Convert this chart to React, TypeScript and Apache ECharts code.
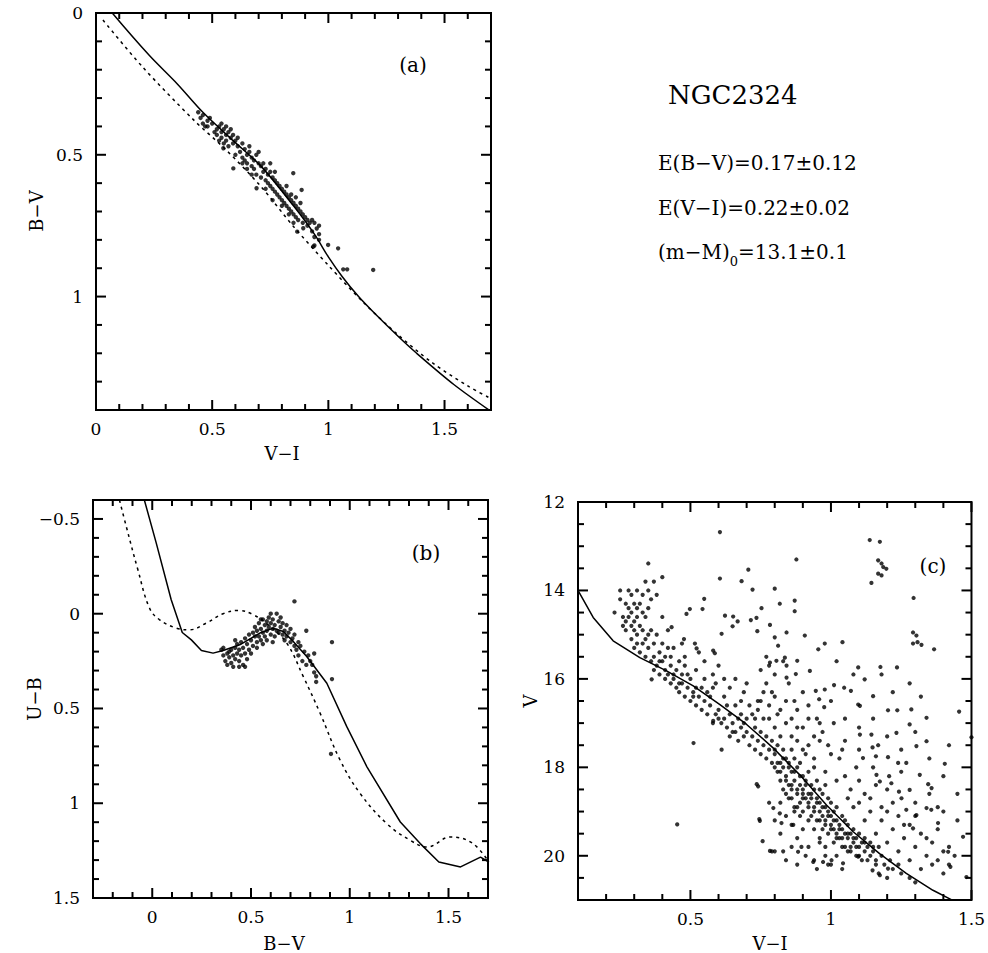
import { useEffect, useRef } from 'react';
import * as echarts from 'echarts';

// ---------- Panel (a): B-V vs V-I ----------
const aSolid: [number, number][] = [
  [0.065, -0.01], [0.07, 0.0], [0.23, 0.15], [0.35, 0.25], [0.46, 0.35], [0.59, 0.45], [0.71, 0.54],
  [0.85, 0.68], [0.94, 0.78], [1.0, 0.86], [1.06, 0.93], [1.13, 1.0], [1.2, 1.06], [1.3, 1.14],
  [1.38, 1.2], [1.54, 1.31], [1.7, 1.405],
];
const aDotted: [number, number][] = [
  [0.03, 0.025], [0.2, 0.19], [0.42, 0.377], [0.56, 0.483], [0.71, 0.612], [0.85, 0.753],
  [1.0, 0.89], [1.15, 1.02], [1.3, 1.135], [1.45, 1.235], [1.6, 1.315], [1.7, 1.36],
];
const aStars: [number, number][] = [
  [0.44, 0.35], [0.45, 0.37], [0.46, 0.36], [0.48, 0.38], [0.46, 0.39], [0.49, 0.37], [0.50, 0.39], [0.48, 0.40],
  [0.52, 0.41], [0.53, 0.40], [0.54, 0.42], [0.52, 0.43], [0.55, 0.41], [0.56, 0.43], [0.54, 0.44], [0.57, 0.42],
  [0.56, 0.45], [0.58, 0.44], [0.55, 0.46], [0.59, 0.43], [0.57, 0.47], [0.60, 0.45], [0.58, 0.41], [0.53, 0.45],
  [0.56, 0.40], [0.59, 0.46], [0.61, 0.44], [0.47, 0.40], [0.51, 0.42], [0.54, 0.39],
  [0.61, 0.47], [0.63, 0.46], [0.62, 0.49], [0.64, 0.48], [0.65, 0.50], [0.63, 0.51], [0.66, 0.49], [0.67, 0.51],
  [0.65, 0.53], [0.68, 0.52], [0.66, 0.47], [0.64, 0.52], [0.69, 0.50], [0.67, 0.54], [0.70, 0.53], [0.68, 0.55],
  [0.71, 0.54], [0.69, 0.57], [0.72, 0.56], [0.73, 0.55], [0.71, 0.58], [0.74, 0.57], [0.75, 0.56], [0.73, 0.59],
  [0.76, 0.58], [0.74, 0.60], [0.77, 0.59], [0.75, 0.61], [0.78, 0.60], [0.76, 0.62], [0.72, 0.53], [0.70, 0.49],
  [0.75, 0.53], [0.77, 0.56], [0.65, 0.55], [0.63, 0.53], [0.60, 0.50], [0.67, 0.57], [0.73, 0.62],
  [0.79, 0.61], [0.77, 0.63], [0.80, 0.62], [0.78, 0.64], [0.81, 0.63], [0.79, 0.65], [0.82, 0.64], [0.80, 0.66],
  [0.83, 0.65], [0.81, 0.67], [0.84, 0.66], [0.82, 0.68], [0.85, 0.67], [0.83, 0.69], [0.86, 0.68], [0.84, 0.70],
  [0.87, 0.69], [0.85, 0.71], [0.88, 0.70], [0.86, 0.72], [0.89, 0.71], [0.87, 0.73], [0.90, 0.72], [0.91, 0.73],
  [0.89, 0.74], [0.92, 0.74], [0.93, 0.73], [0.94, 0.74], [0.91, 0.75], [0.95, 0.76], [0.96, 0.75], [0.93, 0.77],
  [0.96, 0.78], [0.94, 0.79], [0.96, 0.80], [0.94, 0.82], [0.82, 0.61], [0.84, 0.64], [0.86, 0.65], [0.88, 0.67],
  [0.80, 0.68], [0.83, 0.71], [0.76, 0.66], [0.85, 0.74],
  [0.849, 0.565], [0.885, 0.624], [0.866, 0.771], [0.892, 0.759], [0.935, 0.824], [0.999, 0.818], [1.042, 0.83],
  [1.064, 0.904], [1.081, 0.904], [1.193, 0.906], [0.691, 0.618], [0.591, 0.548], [0.548, 0.477],
];

// ---------- Panel (b): U-B vs B-V ----------
const bSolid: [number, number][] = [
  [-0.04, -0.6], [0.02, -0.374], [0.096, -0.074], [0.152, 0.099], [0.198, 0.138], [0.249, 0.194],
  [0.308, 0.208], [0.359, 0.194], [0.443, 0.164], [0.545, 0.102], [0.613, 0.076], [0.663, 0.094],
  [0.714, 0.146], [0.782, 0.226], [0.884, 0.367], [0.985, 0.596], [1.087, 0.808], [1.256, 1.099],
  [1.357, 1.213], [1.451, 1.31], [1.561, 1.336], [1.662, 1.284], [1.704, 1.31],
];
const bDotted: [number, number][] = [
  [-0.166, -0.6], [-0.132, -0.462], [-0.073, -0.233], [-0.014, -0.03], [0.037, 0.032], [0.122, 0.076],
  [0.189, 0.085], [0.274, 0.049], [0.359, 0.0], [0.435, -0.017], [0.511, 0.005], [0.596, 0.067],
  [0.681, 0.155], [0.765, 0.332], [0.85, 0.525], [0.951, 0.772], [1.053, 0.949], [1.188, 1.108],
  [1.307, 1.196], [1.392, 1.231], [1.51, 1.178], [1.62, 1.21], [1.704, 1.31],
];
const bStars: [number, number][] = [
  [0.35, 0.19], [0.36, 0.22], [0.37, 0.25], [0.38, 0.21], [0.38, 0.27], [0.39, 0.23], [0.40, 0.19], [0.40, 0.26],
  [0.41, 0.22], [0.41, 0.28], [0.42, 0.18], [0.42, 0.24], [0.43, 0.21], [0.43, 0.16], [0.44, 0.25], [0.44, 0.19],
  [0.45, 0.22], [0.45, 0.15], [0.46, 0.27], [0.46, 0.18], [0.47, 0.21], [0.47, 0.13], [0.48, 0.24], [0.48, 0.16],
  [0.49, 0.19], [0.49, 0.11], [0.50, 0.14], [0.50, 0.21], [0.47, 0.28], [0.44, 0.28], [0.39, 0.20], [0.42, 0.14],
  [0.36, 0.18],
  [0.51, 0.10], [0.51, 0.17], [0.52, 0.12], [0.52, 0.07], [0.53, 0.15], [0.53, 0.09], [0.54, 0.05], [0.54, 0.12],
  [0.55, 0.08], [0.55, 0.14], [0.56, 0.03], [0.56, 0.10], [0.57, 0.06], [0.57, 0.12], [0.58, 0.04], [0.58, 0.09],
  [0.59, 0.02], [0.59, 0.07], [0.60, 0.05], [0.60, 0.11], [0.60, 0.00], [0.61, 0.08], [0.61, 0.03], [0.62, 0.06],
  [0.62, 0.12], [0.63, 0.00], [0.63, 0.09], [0.64, 0.04], [0.64, 0.10], [0.65, 0.07], [0.65, 0.02], [0.66, 0.11],
  [0.66, 0.05], [0.67, 0.09], [0.67, 0.14], [0.68, 0.06], [0.68, 0.12], [0.69, 0.10], [0.70, 0.15], [0.70, 0.08],
  [0.71, 0.13], [0.72, 0.17], [0.72, 0.11], [0.73, 0.19], [0.74, 0.15], [0.53, 0.18], [0.56, 0.16], [0.58, 0.14],
  [0.61, 0.15], [0.55, 0.03],
  [0.74, 0.22], [0.75, 0.17], [0.76, 0.25], [0.77, 0.20], [0.78, 0.27], [0.79, 0.22], [0.80, 0.25], [0.81, 0.27],
  [0.82, 0.21], [0.82, 0.31], [0.83, 0.33], [0.83, 0.36], [0.78, 0.09], [0.72, -0.065], [0.91, 0.15], [0.91, 0.345],
  [0.905, 0.74],
];

// ---------- Panel (c): V vs V-I ----------
const cLine: [number, number][] = [
  [0.1, 14.0], [0.154, 14.61], [0.225, 15.14], [0.32, 15.52], [0.415, 15.82], [0.51, 16.16], [0.605, 16.58],
  [0.7, 17.03], [0.794, 17.56], [0.889, 18.17], [0.984, 18.85], [1.078, 19.45], [1.173, 19.95], [1.268, 20.4],
  [1.363, 20.78], [1.44, 21.03],
];
const cMainSequence: [number, number][] = [
  [0.23, 14.5], [0.25, 14.0], [0.25, 14.2], [0.26, 14.6], [0.26, 14.8], [0.27, 14.3], [0.27, 14.7], [0.27, 14.9],
  [0.28, 14.0], [0.28, 14.4], [0.28, 14.6], [0.29, 14.1], [0.29, 14.5], [0.29, 14.8], [0.29, 15.1], [0.30, 14.3],
  [0.30, 14.7], [0.30, 14.9], [0.30, 15.3], [0.31, 14.0], [0.31, 14.4], [0.31, 14.6], [0.31, 15.0], [0.31, 15.2],
  [0.32, 14.3], [0.32, 14.8], [0.32, 15.4], [0.33, 14.1], [0.33, 14.5], [0.33, 14.9], [0.33, 15.2], [0.34, 13.8],
  [0.34, 14.6], [0.34, 15.1], [0.34, 15.5], [0.35, 14.0], [0.35, 14.4], [0.35, 15.0], [0.35, 15.3], [0.36, 15.6],
  [0.36, 14.2], [0.36, 14.9], [0.37, 13.8], [0.37, 15.2], [0.37, 15.5], [0.38, 14.1], [0.38, 15.0], [0.38, 15.7],
  [0.39, 15.4], [0.39, 15.9], [0.40, 13.7], [0.40, 14.6], [0.40, 15.2], [0.40, 15.6], [0.41, 15.8], [0.41, 15.5],
  [0.42, 14.9], [0.42, 15.9], [0.43, 15.7], [0.43, 16.1], [0.44, 15.3], [0.44, 16.0], [0.45, 16.2], [0.45, 15.8],
  [0.46, 15.6], [0.46, 16.3], [0.47, 16.1], [0.47, 15.9], [0.48, 16.4], [0.48, 15.7], [0.49, 16.2], [0.50, 16.5],
  [0.50, 16.0], [0.51, 16.3], [0.52, 16.6], [0.52, 16.2], [0.53, 16.4], [0.54, 16.7], [0.55, 16.5], [0.55, 15.6],
  [0.56, 16.8], [0.56, 16.3], [0.57, 16.6], [0.58, 17.0], [0.58, 16.2], [0.59, 16.8], [0.60, 16.7], [0.61, 17.0],
  [0.62, 16.9], [0.63, 17.1], [0.64, 16.8], [0.64, 17.3], [0.65, 17.0], [0.66, 17.2], [0.66, 16.6], [0.67, 17.4],
  [0.68, 17.1], [0.68, 16.5], [0.69, 17.3], [0.70, 17.2], [0.70, 16.9], [0.71, 17.5], [0.72, 17.3], [0.72, 16.8],
  [0.73, 17.6], [0.73, 17.1], [0.74, 17.4], [0.74, 16.7], [0.75, 17.7], [0.75, 17.2], [0.76, 17.5], [0.76, 16.9],
  [0.77, 17.8], [0.77, 17.3], [0.78, 17.6], [0.78, 16.6], [0.79, 17.9], [0.79, 17.4], [0.80, 18.0], [0.80, 17.7],
  [0.80, 17.1], [0.81, 18.1], [0.81, 17.5], [0.81, 16.8], [0.82, 17.9], [0.82, 18.3], [0.82, 17.3], [0.83, 18.0],
  [0.83, 17.6], [0.83, 18.5], [0.84, 18.2], [0.84, 17.8], [0.84, 17.0], [0.85, 18.4], [0.85, 17.9], [0.85, 18.7],
  [0.86, 18.1], [0.86, 17.6], [0.86, 18.5], [0.87, 18.3], [0.87, 17.8], [0.87, 18.9], [0.88, 18.6], [0.88, 18.0],
  [0.88, 17.4], [0.89, 18.4], [0.89, 18.8], [0.89, 17.9], [0.90, 18.5], [0.90, 18.2], [0.90, 19.0], [0.91, 18.7],
  [0.91, 18.3], [0.91, 17.7], [0.92, 18.6], [0.92, 18.9], [0.92, 18.1], [0.93, 18.4], [0.93, 19.1], [0.93, 18.7],
  [0.94, 18.5], [0.94, 18.9], [0.94, 18.0], [0.95, 18.7], [0.95, 19.2], [0.95, 18.3], [0.96, 18.8], [0.96, 19.0],
  [0.96, 18.5], [0.97, 19.1], [0.97, 18.6], [0.97, 19.4], [0.98, 18.9], [0.98, 19.2], [0.98, 18.4], [0.99, 19.0],
  [0.99, 19.5], [0.99, 18.7], [1.00, 19.1], [1.00, 19.3], [1.00, 18.8], [1.01, 19.4], [1.01, 19.0], [1.01, 19.7],
  [1.02, 19.2], [1.02, 19.5], [1.02, 18.9], [1.03, 19.3], [1.03, 19.6], [1.04, 19.4], [1.04, 19.8], [1.04, 19.1],
  [1.05, 19.5], [1.05, 19.2], [1.06, 19.6], [1.06, 19.9], [1.06, 19.3], [1.07, 19.5], [1.07, 19.8], [1.08, 19.7],
  [1.08, 19.4], [1.09, 19.6], [1.09, 20.0], [1.10, 19.8], [1.10, 19.5], [1.11, 19.7], [1.11, 20.1], [1.12, 19.9],
  [1.12, 19.6], [1.13, 19.8], [1.14, 20.0], [1.14, 19.7], [1.15, 19.9], [1.16, 20.1], [1.17, 19.8], [1.17, 20.4],
  [1.18, 20.0], [1.19, 20.2], [1.20, 20.5], [1.21, 20.1], [1.22, 20.3], [1.24, 20.2], [1.25, 20.4], [1.28, 20.5],
  [1.30, 20.6],
  [0.37, 15.8], [0.39, 15.6], [0.41, 16.0], [0.43, 15.5], [0.44, 15.9], [0.46, 16.1], [0.48, 15.5], [0.49, 15.9],
  [0.51, 16.4], [0.52, 15.8], [0.54, 16.2], [0.55, 16.0], [0.57, 16.4], [0.59, 16.1], [0.60, 16.9], [0.62, 16.4],
  [0.63, 16.6], [0.65, 17.2], [0.67, 16.9], [0.69, 17.0], [0.58, 15.9], [0.53, 15.4], [0.47, 15.2], [0.42, 15.3],
  [0.80, 17.6], [0.81, 17.9], [0.82, 18.1], [0.83, 17.8], [0.84, 18.3], [0.85, 18.0], [0.86, 18.4], [0.87, 18.1],
  [0.88, 18.5], [0.89, 18.2], [0.90, 18.7], [0.91, 18.4], [0.92, 18.8], [0.93, 18.6], [0.94, 19.0], [0.95, 18.8],
  [0.96, 19.2], [0.97, 18.9], [0.98, 19.3], [0.99, 19.1], [1.00, 19.4], [1.01, 19.2], [1.02, 19.6], [1.03, 19.4],
  [1.04, 19.6], [1.05, 19.8], [1.06, 19.5], [1.07, 19.9], [1.08, 19.6], [1.09, 19.8], [1.10, 20.0], [1.12, 19.7],
  [1.13, 20.1], [1.15, 19.8], [1.16, 20.2], [0.86, 18.7], [0.88, 18.9], [0.90, 18.6], [0.92, 19.2], [0.94, 19.4],
  [0.96, 19.6], [0.98, 19.8], [0.84, 18.6], [0.82, 18.8], [0.87, 19.0], [0.89, 19.1],
];
const cField: [number, number][] = [
  [0.78, 15.7], [0.80, 15.9], [0.83, 15.6], [0.85, 16.1], [0.87, 16.5], [0.90, 16.3], [0.92, 16.6], [0.95, 16.9],
  [0.97, 17.2], [0.99, 17.5], [1.01, 17.0], [1.03, 17.8], [1.05, 18.2], [1.07, 18.5], [1.09, 18.0], [1.10, 18.8],
  [1.12, 18.6], [1.14, 19.0], [1.16, 18.4], [1.18, 19.2], [1.20, 19.0], [1.22, 19.4], [1.24, 19.1], [1.26, 19.6],
  [1.28, 19.3], [1.30, 19.8], [1.32, 19.5], [1.34, 20.0], [1.36, 19.7], [1.38, 20.1], [1.40, 19.9], [1.42, 20.2],
  [1.44, 20.0], [0.92, 17.5], [0.94, 17.8], [0.96, 17.4], [0.98, 18.1], [1.00, 17.7], [1.02, 18.3], [1.04, 17.6],
  [1.06, 18.7], [1.08, 18.9], [1.10, 18.3], [1.12, 19.2], [1.14, 18.7], [1.16, 19.5], [1.18, 18.9], [1.20, 19.7],
  [1.22, 18.8], [1.24, 19.9], [1.26, 19.3], [1.28, 20.1], [1.30, 19.1], [1.32, 20.3], [1.34, 19.6], [1.36, 20.2],
  [1.38, 19.4], [1.40, 20.4], [1.42, 19.8], [0.86, 19.3], [0.88, 19.6], [0.90, 19.4], [0.92, 19.8], [0.94, 20.1],
  [0.96, 19.7], [0.98, 20.0], [1.00, 20.2], [1.02, 20.0], [1.04, 20.3], [0.84, 19.1], [0.82, 19.5], [0.80, 19.2],
  [0.78, 18.8], [0.79, 19.9], [0.86, 19.8], [0.83, 19.9], [0.74, 16.5], [0.76, 16.3], [0.78, 16.9], [0.80, 16.4],
  [0.82, 16.7], [0.84, 16.5], [0.86, 16.9], [0.88, 16.7], [0.90, 17.1], [0.86, 17.3], [0.92, 16.9], [0.94, 17.3],
  [0.96, 17.0], [0.90, 17.6], [0.88, 17.1],
  [0.60, 15.7], [0.62, 16.0], [0.64, 16.2], [0.66, 16.0], [0.69, 16.3], [0.71, 16.6], [0.73, 16.9], [0.75, 16.5],
  [0.77, 16.1], [0.79, 16.3], [0.75, 15.8], [0.77, 15.5], [0.70, 16.1], [0.68, 16.8],
  [1.00, 16.5], [1.05, 16.9], [1.10, 17.1], [1.15, 16.9], [1.20, 17.3], [1.25, 17.6], [1.30, 17.2], [1.35, 17.8],
  [1.40, 18.2], [1.45, 18.6], [1.05, 17.4], [1.10, 17.6], [1.15, 18.0], [1.20, 18.5], [1.25, 18.1], [1.30, 18.8],
  [1.35, 18.6], [1.40, 19.0], [1.45, 19.2], [1.38, 18.9], [1.42, 17.5], [1.32, 16.4], [1.28, 16.1], [1.22, 16.3],
  [1.18, 15.9], [1.08, 15.9], [1.02, 15.6],
  [0.80, 19.9], [0.84, 20.1], [0.88, 20.2], [0.91, 20.0], [0.95, 20.3], [0.99, 20.2],
  [0.605, 12.68], [0.35, 13.39], [0.877, 13.3], [0.706, 13.53], [0.605, 13.73], [0.682, 13.79], [1.138, 12.86],
  [1.174, 12.9], [1.168, 13.32], [1.18, 13.39], [1.186, 13.47], [1.197, 13.51], [1.168, 13.62], [1.18, 13.66],
  [1.144, 13.83], [1.294, 14.17], [0.721, 13.98], [0.8, 13.96], [0.549, 14.19], [0.543, 14.42], [0.498, 14.42],
  [0.486, 14.53], [0.753, 14.4], [0.818, 14.3], [0.871, 14.23], [0.871, 14.47], [0.623, 14.57], [0.652, 14.59],
  [0.668, 14.7], [0.65, 14.81], [0.715, 14.67], [0.735, 14.62], [0.783, 14.78], [0.8, 15.06], [0.842, 14.95],
  [0.907, 15.02], [0.738, 14.92], [0.611, 14.98], [0.477, 15.1], [0.433, 14.83], [0.516, 15.2], [0.522, 15.31],
  [0.581, 15.36], [0.587, 15.42], [0.812, 15.25], [0.783, 15.63], [0.806, 15.59], [0.836, 15.52], [0.842, 15.7],
  [0.88, 15.59], [0.925, 15.82], [0.875, 15.89], [0.842, 15.97], [0.978, 15.2], [0.955, 15.33], [1.041, 15.17],
  [1.097, 15.74], [1.12, 16.01], [1.176, 15.73], [1.235, 15.74], [1.367, 15.33], [1.292, 14.95], [1.304, 15.02],
  [1.308, 15.17], [1.322, 15.23], [1.292, 15.2], [1.456, 16.74], [1.5, 17.32], [1.15, 16.39], [1.047, 16.2],
  [1.071, 16.27], [1.011, 16.14], [0.978, 16.24], [0.946, 16.27], [0.958, 16.46], [0.976, 16.64], [1.097, 16.58],
  [1.103, 16.61], [1.203, 16.71], [1.236, 16.71], [1.286, 16.69], [1.34, 16.88], [1.28, 17.03], [1.233, 17.22],
  [1.103, 17.26], [1.144, 17.26], [1.304, 17.52], [1.34, 17.41], [1.405, 17.92], [1.148, 17.55], [1.168, 17.5],
  [1.114, 17.79], [1.16, 17.75], [1.203, 17.77], [1.268, 17.9], [1.346, 18.38], [1.358, 18.47], [1.316, 18.17],
  [1.239, 17.9], [1.207, 18.2], [1.162, 18.17], [1.174, 18.32], [1.215, 18.36], [1.47, 19.57], [1.482, 20.48],
  [1.417, 19.91], [1.425, 20.25], [1.381, 19.26], [1.357, 18.96], [1.34, 18.92], [1.304, 19.08], [1.268, 18.96],
  [1.292, 19.38], [1.251, 18.7], [1.242, 18.55], [1.28, 18.51], [0.453, 19.29], [0.511, 17.45], [0.611, 17.6],
  [0.362, 16.01], [0.581, 16.95], [0.736, 18.38], [0.741, 18.43], [0.745, 19.17], [0.747, 19.21], [0.757, 19.67],
  [0.783, 19.89], [0.795, 18.92], [0.818, 19.04], [0.824, 19.26], [0.866, 19.3], [0.883, 19.91], [0.895, 19.8],
  [0.937, 20.14], [0.972, 20.14], [1.002, 20.1], [1.043, 20.17], [1.097, 20.02], [1.148, 20.33], [1.174, 20.44],
  [1.203, 20.29],
];

// ---------- Axis ranges and tick values ----------
const aX = { min: 0, max: 1.7, major: 0.5, showMin: true, showMax: false };
const aY = { min: 0, max: 1.4, major: 0.5, showMin: true, showMax: false };
const bX = { min: -0.3, max: 1.7, major: 0.5, showMin: false, showMax: false };
const bY = { min: -0.6, max: 1.5, major: 0.5, showMin: false, showMax: true };
const cX = { min: 0.1, max: 1.5, major: 0.5, showMin: false, showMax: true };
const cY = { min: 12, max: 21, major: 2, showMin: true, showMax: false };

const aXMajorTicks = [0, 0.5, 1, 1.5];
const aXMinorTicks = [0.1, 0.2, 0.3, 0.4, 0.6, 0.7, 0.8, 0.9, 1.1, 1.2, 1.3, 1.4, 1.6];
const aYMajorTicks = [0, 0.5, 1];
const aYMinorTicks = [0.1, 0.2, 0.3, 0.4, 0.6, 0.7, 0.8, 0.9, 1.1, 1.2, 1.3];
const bXMajorTicks = [0, 0.5, 1, 1.5];
const bXMinorTicks = [-0.2, -0.1, 0.1, 0.2, 0.3, 0.4, 0.6, 0.7, 0.8, 0.9, 1.1, 1.2, 1.3, 1.4, 1.6];
const bYMajorTicks = [-0.5, 0, 0.5, 1, 1.5];
const bYMinorTicks = [-0.4, -0.3, -0.2, -0.1, 0.1, 0.2, 0.3, 0.4, 0.6, 0.7, 0.8, 0.9, 1.1, 1.2, 1.3, 1.4];
const cXMajorTicks = [0.5, 1, 1.5];
const cXMinorTicks = [0.2, 0.3, 0.4, 0.6, 0.7, 0.8, 0.9, 1.1, 1.2, 1.3, 1.4];
const cYMajorTicks = [12, 14, 16, 18, 20];
const cYMinorTicks = [12.5, 13, 13.5, 14.5, 15, 15.5, 16.5, 17, 17.5, 18.5, 19, 19.5, 20.5];

const FONT = 'DejaVu Serif';
const BLACK = '#000';
const MAJOR_LEN = 10;
const MINOR_LEN = 6;
const TICK_WIDTH = 2;

// plot-frame boxes (layout only)
const BOXES = [
  { left: 96, top: 13, width: 395, height: 397 },
  { left: 93, top: 500, width: 395, height: 398 },
  { left: 578, top: 502, width: 394, height: 398 },
];

type Rng = { min: number; max: number; major: number; showMin: boolean; showMax: boolean };

function axis(dim: 'x' | 'y', grid: number, r: Rng, inverse: boolean) {
  return {
    type: 'value',
    gridIndex: grid,
    position: dim === 'x' ? 'bottom' : 'left',
    min: r.min,
    max: r.max,
    inverse,
    minInterval: r.major,
    maxInterval: r.major,
    splitLine: { show: false },
    axisLine: { show: false, onZero: false },
    axisTick: { show: false },
    axisLabel: {
      show: true,
      showMinLabel: r.showMin,
      showMaxLabel: r.showMax,
      margin: dim === 'x' ? 10 : 13,
      color: BLACK,
      fontFamily: FONT,
      fontSize: 17,
      formatter: (v: number) => String(v).replace('-', '\u2212'),
    },
  };
}

// Each tick is a tiny two-point line series in data space; its length is the pixel
// length converted with the panel's own scale (range / box size).
function tickLine(i: number, p0: number[], p1: number[]) {
  return {
    type: 'line',
    xAxisIndex: i,
    yAxisIndex: i,
    data: [p0, p1],
    symbol: 'none',
    showSymbol: false,
    clip: false,
    silent: true,
    lineStyle: { color: BLACK, width: TICK_WIDTH, type: 'solid', cap: 'butt' },
    z: 6,
  };
}

function panelTicks(i: number, xr: Rng, yr: Rng, xMaj: number[], xMin: number[], yMaj: number[], yMin: number[]) {
  const box = BOXES[i];
  const perPxY = (yr.max - yr.min) / box.height;
  const perPxX = (xr.max - xr.min) / box.width;
  const out: any[] = [];
  // y axes are inverted: yr.max sits on the bottom edge, yr.min on the top edge
  const addX = (vals: number[], len: number) => {
    vals.forEach((v) => {
      out.push(tickLine(i, [v, yr.max], [v, yr.max - len * perPxY]));
      out.push(tickLine(i, [v, yr.min], [v, yr.min + len * perPxY]));
    });
  };
  const addY = (vals: number[], len: number) => {
    vals.forEach((v) => {
      out.push(tickLine(i, [xr.min, v], [xr.min + len * perPxX, v]));
      out.push(tickLine(i, [xr.max, v], [xr.max - len * perPxX, v]));
    });
  };
  addX(xMaj, MAJOR_LEN);
  addX(xMin, MINOR_LEN);
  addY(yMaj, MAJOR_LEN);
  addY(yMin, MINOR_LEN);
  return out;
}

function txt(text: string, x: number, y: number, size: number, align = 'center', rotation = 0, rich?: any) {
  return {
    type: 'text',
    x,
    y,
    rotation,
    style: {
      text,
      fill: BLACK,
      fontFamily: FONT,
      fontSize: size,
      align,
      verticalAlign: 'middle',
      rich,
    },
  };
}

export default function App() {
  const ref = useRef<HTMLDivElement>(null);
  useEffect(() => {
    if (!ref.current) return;
    const chart = echarts.init(ref.current, undefined, { renderer: 'svg' });
    const gridStyle = { show: true, borderColor: BLACK, borderWidth: 2, backgroundColor: 'transparent', containLabel: false };
    const lineSolid = { color: BLACK, width: 1.5, type: 'solid' };
    const lineDot = { color: BLACK, width: 1.5, type: [3, 4] };
    const mkLine = (i: number, data: [number, number][], style: any, smooth: number | boolean) => ({
      type: 'line',
      xAxisIndex: i,
      yAxisIndex: i,
      data,
      symbol: 'none',
      showSymbol: false,
      smooth,
      lineStyle: style,
      silent: true,
      z: 2,
    });
    const mkScatter = (i: number, data: [number, number][], size: number) => ({
      type: 'scatter',
      xAxisIndex: i,
      yAxisIndex: i,
      data,
      symbol: 'circle',
      symbolSize: size,
      itemStyle: { color: BLACK },
      silent: true,
      z: 3,
    });
    chart.setOption({
      animation: false,
      backgroundColor: '#fff',
      grid: BOXES.map((b) => ({ ...gridStyle, ...b })),
      xAxis: [axis('x', 0, aX, false), axis('x', 1, bX, false), axis('x', 2, cX, false)],
      yAxis: [axis('y', 0, aY, true), axis('y', 1, bY, true), axis('y', 2, cY, true)],
      series: [
        mkLine(0, aSolid, lineSolid, 0.3),
        mkLine(0, aDotted, lineDot, 0.3),
        mkScatter(0, aStars, 4.4),
        mkLine(1, bSolid, lineSolid, false),
        mkLine(1, bDotted, lineDot, 0.4),
        mkScatter(1, bStars, 4.4),
        mkLine(2, cLine, lineSolid, false),
        mkScatter(2, cMainSequence, 4.2),
        mkScatter(2, cField, 4.2),
        ...panelTicks(0, aX, aY, aXMajorTicks, aXMinorTicks, aYMajorTicks, aYMinorTicks),
        ...panelTicks(1, bX, bY, bXMajorTicks, bXMinorTicks, bYMajorTicks, bYMinorTicks),
        ...panelTicks(2, cX, cY, cXMajorTicks, cXMinorTicks, cYMajorTicks, cYMinorTicks),
      ],
      graphic: [
        txt('(a)', 413, 65, 20),
        txt('(b)', 426, 553, 20),
        txt('(c)', 933, 566, 20),
        txt('V\u2212I', 282, 453, 18),
        txt('B\u2212V', 284, 943, 18),
        txt('V\u2212I', 770, 943, 18),
        txt('B\u2212V', 36, 211, 18, 'center', Math.PI / 2),
        txt('U\u2212B', 34, 699, 18, 'center', Math.PI / 2),
        txt('V', 530, 701, 18, 'center', Math.PI / 2),
        txt('NGC2324', 668, 95, 26, 'left'),
        txt('E(B\u2212V)=0.17\u00b10.12', 658, 163, 20, 'left'),
        txt('E(V\u2212I)=0.22\u00b10.02', 658, 208, 20, 'left'),
        txt('(m\u2212M){s|0}=13.1\u00b10.1', 658, 252, 20, 'left', 0, {
          s: { fontSize: 13, fontFamily: FONT, fill: BLACK, verticalAlign: 'bottom', padding: [0, 0, -6, 0] },
        }),
      ],
    });
    return () => chart.dispose();
  }, []);
  return (
    <div
      ref={ref}
      style={{ position: 'fixed', left: 0, top: 0, width: 988, height: 953, background: '#fff' }}
    />
  );
}
